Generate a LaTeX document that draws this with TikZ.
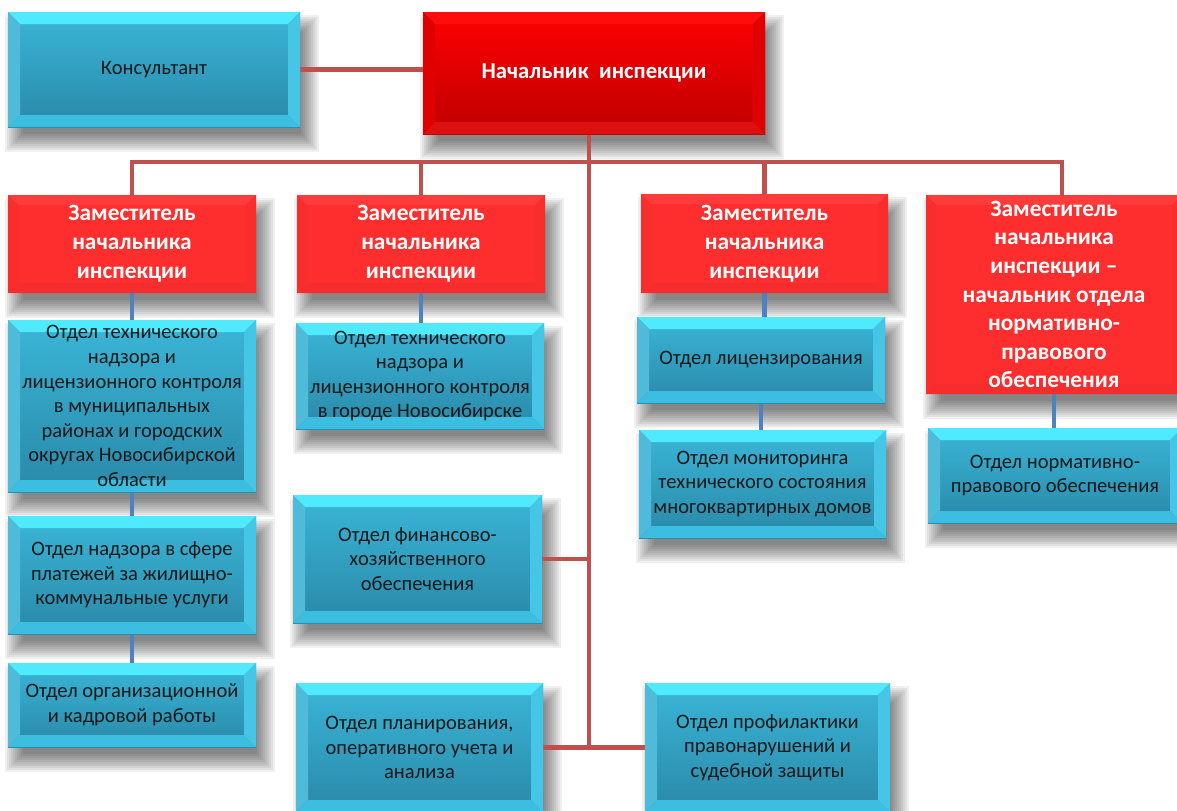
\documentclass[tikz,border=0pt]{standalone}
\usepackage{fontspec}
\setmainfont{Carlito}
\usetikzlibrary{calc,backgrounds}
\definecolor{lineRed}{HTML}{C0504D}
\definecolor{lineBlue}{HTML}{4F81BD}
\definecolor{bTop}{HTML}{3AB6D8}
\definecolor{bBot}{HTML}{2A88A8}
\definecolor{bBevT}{HTML}{4FEAFD}
\definecolor{bBevB}{HTML}{3BBEDF}
\definecolor{bBevL}{HTML}{3CB2D6}
\definecolor{bBevR}{HTML}{45C6E6}
\definecolor{rTop}{HTML}{FF0000}
\definecolor{rBot}{HTML}{BD0000}
\definecolor{rBevB}{HTML}{DD1010}
\definecolor{dRed}{HTML}{FF2E2E}
\newcommand\mybevel[5]{%
  \fill[#2] (path picture bounding box.north west) -- (path picture bounding box.north east)
    -- ($(path picture bounding box.north east)+(-#1,-#1)$) -- ($(path picture bounding box.north west)+(#1,-#1)$) -- cycle;
  \fill[#3] (path picture bounding box.south west) -- (path picture bounding box.south east)
    -- ($(path picture bounding box.south east)+(-#1,#1)$) -- ($(path picture bounding box.south west)+(#1,#1)$) -- cycle;
  \fill[#4] (path picture bounding box.north west) -- (path picture bounding box.south west)
    -- ($(path picture bounding box.south west)+(#1,#1)$) -- ($(path picture bounding box.north west)+(#1,-#1)$) -- cycle;
  \fill[#5] (path picture bounding box.north east) -- (path picture bounding box.south east)
    -- ($(path picture bounding box.south east)+(-#1,#1)$) -- ($(path picture bounding box.north east)+(-#1,-#1)$) -- cycle;
}
\newcommand\softshadow[1]{%
  \foreach \e in {11,9,...,-7}{%
    \fill[black,opacity=0.06] ($(#1.south west)+(8-\e,-14-\e)$) rectangle ($(#1.north east)+(8+\e,-14+\e)$);
  }%
}
\tikzset{
  boxbase/.style={inner sep=0pt, outer sep=0pt, align=center},
  bluebox/.style={boxbase, top color=bTop, bottom color=bBot, text=black!90,
    font=\fontsize{15.4}{18.4}\selectfont,
    path picture={\mybevel{12}{bBevT}{bBevB}{bBevL!90}{bBevR}}},
  chiefbox/.style={boxbase, top color=rTop, bottom color=rBot, text=white,
    font=\bfseries\fontsize{17}{20}\selectfont,
    path picture={\mybevel{12}{red!95!white}{rBevB}{red!88!black}{red!88!black}}},
  depbox/.style={boxbase, fill=dRed, text=white,
    font=\bfseries\fontsize{17.5}{21.75}\selectfont,
    path picture={\mybevel{10}{dRed!94!white}{dRed!97!black}{dRed!98!black}{dRed!98!black}}},
  redln/.style={draw=lineRed, line width=3.4pt},
  blueln/.style={draw=lineBlue, line width=3.4pt}
}
\begin{document}
\begin{tikzpicture}[x=0.75pt,y=0.75pt]
\path[use as bounding box] (0,0) rectangle (1177,-810);
\clip (0,0) rectangle (1177,-810);

\node[bluebox, minimum width=219pt, minimum height=86.25pt] (cons) at (154,-69.5) {Консультант};
\node[chiefbox, minimum width=256.5pt, minimum height=91.5pt] (chief) at (594,-73) {Начальник\hspace{4pt} инспекции};

\node[depbox, minimum width=186pt, minimum height=73.5pt] (dep1) at (132,-244) {Заместитель\\начальника\\инспекции};
\node[depbox, minimum width=186pt, minimum height=73.5pt] (dep2) at (421,-244) {Заместитель\\начальника\\инспекции};
\node[depbox, minimum width=185.25pt, minimum height=74.25pt] (dep3) at (764.5,-243.5) {Заместитель\\начальника\\инспекции};
\node[depbox, minimum width=192pt, minimum height=149.25pt, font=\bfseries\fontsize{17.5}{21.4}\selectfont] (dep4) at (1054,-294.5) {Заместитель\\начальника\\инспекции –\\начальник отдела\\нормативно-\\правового\\обеспечения};

\node[bluebox, minimum width=186pt, minimum height=129pt] (A) at (132,-406) {Отдел технического\\надзора и\\лицензионного контроля\\в муниципальных\\районах и городских\\округах Новосибирской\\области};
\node[bluebox, minimum width=186pt, minimum height=88.5pt] (B) at (132,-575) {Отдел надзора в сфере\\платежей за жилищно-\\коммунальные услуги};
\node[bluebox, minimum width=186pt, minimum height=63pt] (C) at (132,-705) {Отдел организационной\\и кадровой работы};

\node[bluebox, minimum width=186pt, minimum height=79.5pt] (D) at (420,-376) {Отдел технического\\надзора и\\лицензионного контроля\\в городе Новосибирске};
\node[bluebox, minimum width=186.75pt, minimum height=96pt] (E) at (417.5,-559) {Отдел финансово-\\хозяйственного\\обеспечения};
\node[bluebox, minimum width=185.25pt, minimum height=96.75pt] (F) at (419.5,-747.5) {Отдел планирования,\\оперативного учета и\\анализа};

\node[bluebox, minimum width=186pt, minimum height=64.5pt] (G) at (761,-360) {Отдел лицензирования};
\node[bluebox, minimum width=185.25pt, minimum height=81pt] (H) at (762.5,-484) {Отдел мониторинга\\технического состояния\\многоквартирных домов};
\node[bluebox, minimum width=183.75pt, minimum height=96.75pt] (I) at (767.5,-747.5) {Отдел профилактики\\правонарушений и\\судебной защиты};

\node[bluebox, minimum width=190.5pt, minimum height=71.25pt] (J) at (1055,-475.5) {Отдел нормативно-\\правового обеспечения};

\begin{pgfonlayer}{background}
\fill[white] (0,0) rectangle (1177,-810);
\foreach \n in {cons,chief,dep1,dep2,dep3,dep4,A,B,C,D,E,F,G,H,I,J}{\softshadow{\n}}
\coordinate (bus) at (589,-162);
\coordinate (tend) at (589,-747);
\draw[redln] (cons.east) -- (cons.east -| chief.west);
\draw[redln] (chief.south -| bus) -- (tend);
\draw[redln] (dep1.north) |- (bus) -| ($(dep4.north)+(8,0)$);
\draw[redln] (dep2.north) -- (dep2.north |- bus);
\draw[redln] (dep3.north) -- (dep3.north |- bus);
\draw[redln] (E.east) -- (E.east -| bus);
\draw[redln] (F.east) -- (I.west);
\draw[blueln] (dep1.south) -- (A.north);
\draw[blueln] (A.south) -- (B.north);
\draw[blueln] (B.south) -- (C.north);
\draw[blueln] (dep2.south) -- (dep2.south |- D.north);
\draw[blueln] (dep3.south) -- (dep3.south |- G.north);
\draw[blueln] (G.south) -- (G.south |- H.north);
\draw[blueln] (dep4.south) -- (dep4.south |- J.north);
\end{pgfonlayer}
\end{tikzpicture}
\end{document}
